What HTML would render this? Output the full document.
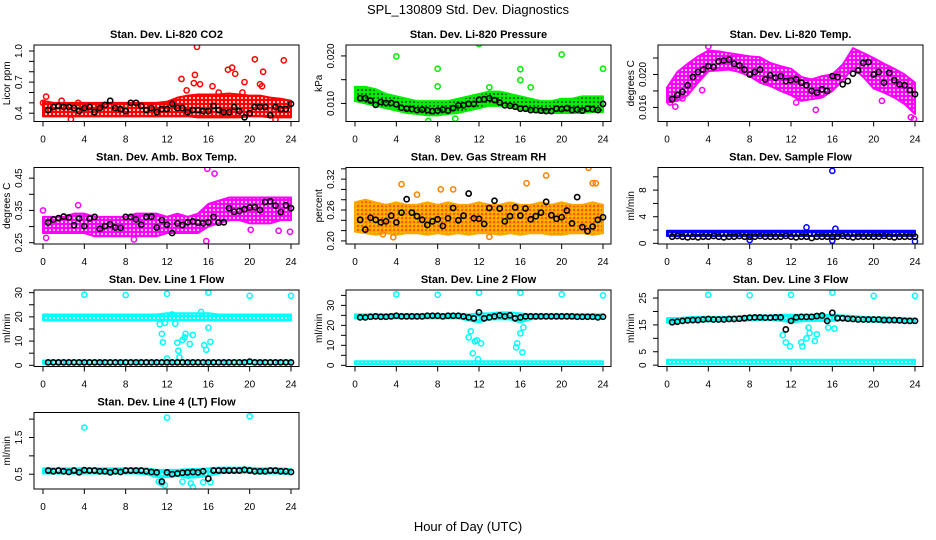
<!DOCTYPE html>
<html><head><meta charset="utf-8"><style>
html,body{margin:0;padding:0;background:#fff;width:936px;height:540px;overflow:hidden}
svg text{font-family:"Liberation Sans",sans-serif}
</style></head><body>
<svg id="chart" width="936" height="540" viewBox="0 0 936 540" xmlns="http://www.w3.org/2000/svg">
<defs>
<pattern id="p-red" width="4" height="4" patternUnits="userSpaceOnUse"><rect width="4" height="4" fill="#ff0000"/><circle cx="2" cy="2" r="1" fill="#fff"/></pattern>
<pattern id="p-green" width="4" height="4" patternUnits="userSpaceOnUse"><rect width="4" height="4" fill="#00ee00"/><circle cx="2" cy="2" r="0.9" fill="#0a0a0a"/></pattern>
<pattern id="p-magenta" width="4" height="4" patternUnits="userSpaceOnUse"><rect width="4" height="4" fill="#ff00ff"/><circle cx="2" cy="2" r="1" fill="#fff"/></pattern>
<pattern id="p-orange" width="4" height="4" patternUnits="userSpaceOnUse"><rect width="4" height="4" fill="#ffa500"/><circle cx="2" cy="2" r="0.9" fill="#ff2000"/><circle cx="0" cy="0" r="0.8" fill="#ffff00"/></pattern>
<pattern id="p-blue" width="4" height="4" patternUnits="userSpaceOnUse"><rect width="4" height="4" fill="#0000ff"/><circle cx="2" cy="2" r="1" fill="#fff"/></pattern>
<pattern id="p-cyan" width="4" height="4" patternUnits="userSpaceOnUse"><rect width="4" height="4" fill="#00ffff"/><circle cx="2" cy="2" r="1" fill="#fff"/></pattern>
</defs>
<text x="468" y="14" font-size="13" text-anchor="middle">SPL_130809  Std. Dev. Diagnostics</text>
<text x="468" y="531" font-size="13" text-anchor="middle">Hour of Day (UTC)</text>
</svg>
<script>
const bandHours = [0,1,2,3,4,5,6,7,8,9,10,11,12,13,14,15,16,17,18,19,20,21,22,23,24];
const blackHours = [0.5,1,1.5,2,2.5,3,3.5,4,4.5,5,5.5,6,6.5,7,7.5,8,8.5,9,9.5,10,10.5,11,11.5,12,12.5,13,13.5,14,14.5,15,15.5,16,16.5,17,17.5,18,18.5,19,19.5,20,20.5,21,21.5,22,22.5,23,23.5,24];
const xTicks = [0,4,8,12,16,20,24];

const co2Hi = [0.52,0.50,0.50,0.50,0.50,0.50,0.50,0.50,0.50,0.50,0.50,0.50,0.51,0.55,0.57,0.58,0.58,0.58,0.59,0.58,0.57,0.57,0.55,0.54,0.52];
const co2Lo = [0.37,0.37,0.37,0.37,0.37,0.37,0.37,0.37,0.37,0.37,0.37,0.37,0.37,0.37,0.37,0.36,0.36,0.36,0.36,0.36,0.37,0.37,0.36,0.36,0.36];
const co2OutX = [0,0.3,1.8,3.4,13.4,13.9,14.7,14.6,14.9,15.2,16.4,17.9,18.3,18.6,19.5,20.5,21,21.2,21.3,23.3,19.3,17,2.7,22.5];
const co2OutY = [0.5,0.56,0.52,0.5,0.73,0.62,0.77,0.69,1.04,0.68,0.66,0.82,0.84,0.78,0.7,0.92,0.68,0.66,0.8,0.91,0.6,0.6,0.34,0.34];
const co2Black = [0.43,0.46,0.47,0.46,0.46,0.45,0.42,0.45,0.46,0.41,0.45,0.48,0.52,0.45,0.44,0.42,0.5,0.5,0.47,0.43,0.45,0.41,0.44,0.44,0.49,0.45,0.45,0.41,0.43,0.43,0.42,0.42,0.47,0.43,0.41,0.41,0.46,0.42,0.36,0.4,0.46,0.46,0.46,0.38,0.46,0.44,0.44,0.49];
const presHi = [0.0135,0.0135,0.013,0.012,0.0115,0.011,0.0105,0.0105,0.0105,0.0105,0.011,0.0115,0.012,0.0125,0.0125,0.012,0.0115,0.011,0.0105,0.0105,0.011,0.011,0.0115,0.0115,0.0115];
const presLo = [0.0105,0.01,0.0095,0.009,0.0085,0.008,0.0078,0.0075,0.0075,0.0078,0.008,0.0085,0.009,0.0095,0.0095,0.0092,0.0088,0.0083,0.008,0.008,0.008,0.008,0.008,0.0082,0.0082];
const presOutX = [4,8,8,12,13,16,16,17,20,24,7.1,9.7];
const presOutY = [0.0199,0.0173,0.0136,0.0225,0.0134,0.0172,0.0149,0.0134,0.0203,0.0173,0.0063,0.0068];
const presBlack = [0.0111,0.0111,0.0106,0.0097,0.0103,0.0101,0.0101,0.0098,0.0091,0.0089,0.0088,0.0086,0.0087,0.0086,0.0084,0.0085,0.0087,0.0085,0.009,0.0096,0.0096,0.0099,0.0099,0.0108,0.0109,0.0111,0.0107,0.0102,0.0096,0.0095,0.0093,0.0089,0.0089,0.0086,0.0086,0.0085,0.0084,0.0084,0.0089,0.0088,0.009,0.0086,0.0087,0.0085,0.0089,0.0088,0.0086,0.0099];
const tempHi = [0.0184,0.0203,0.0213,0.0222,0.0229,0.0228,0.0226,0.0224,0.0222,0.0221,0.0214,0.021,0.0207,0.0197,0.0194,0.0198,0.02,0.0212,0.0232,0.0226,0.022,0.0213,0.0207,0.02,0.019];
const tempLo = [0.0166,0.0168,0.0175,0.019,0.0204,0.0205,0.0206,0.0203,0.0198,0.019,0.0186,0.018,0.0175,0.0168,0.017,0.0172,0.018,0.0193,0.0208,0.0197,0.0183,0.0178,0.0172,0.0164,0.0152];
const tempOutX = [0.3,0.8,1.5,3.4,12.5,14.4,20.8,23.6,23.9,4];
const tempOutY = [0.0166,0.0161,0.0171,0.0181,0.0166,0.0157,0.0168,0.0148,0.0146,0.0234];
const tempBlack = [0.017,0.0175,0.0179,0.0187,0.0197,0.0203,0.0206,0.021,0.0209,0.0216,0.0217,0.0218,0.0213,0.0211,0.0206,0.02,0.0203,0.0206,0.0194,0.0199,0.0196,0.0198,0.0192,0.0193,0.0194,0.019,0.0187,0.018,0.0178,0.0182,0.018,0.0198,0.0197,0.0188,0.0192,0.0201,0.0205,0.0214,0.0215,0.02,0.0203,0.019,0.0202,0.0193,0.0188,0.0187,0.0181,0.0176];
const boxHi = [0.33,0.33,0.33,0.34,0.34,0.33,0.33,0.33,0.33,0.34,0.34,0.34,0.33,0.34,0.33,0.34,0.37,0.38,0.39,0.39,0.39,0.39,0.39,0.39,0.39];
const boxLo = [0.28,0.28,0.28,0.28,0.28,0.27,0.27,0.27,0.27,0.27,0.27,0.27,0.28,0.28,0.28,0.28,0.3,0.31,0.32,0.32,0.31,0.31,0.31,0.32,0.32];
const boxOutX = [15.9,16.6,0,0.3,3.4,21.2,22.8,23.9,20.1,8.8,15.8];
const boxOutY = [0.479,0.464,0.35,0.265,0.366,0.345,0.287,0.284,0.29,0.26,0.255];
const boxBlack = [0.312,0.322,0.326,0.331,0.328,0.304,0.325,0.301,0.325,0.33,0.293,0.301,0.307,0.297,0.296,0.33,0.33,0.322,0.306,0.33,0.331,0.297,0.32,0.306,0.28,0.31,0.305,0.313,0.316,0.312,0.31,0.313,0.33,0.312,0.313,0.357,0.346,0.348,0.354,0.359,0.36,0.351,0.376,0.378,0.365,0.345,0.366,0.357];
const rhHi = [0.275,0.28,0.275,0.27,0.275,0.27,0.27,0.275,0.27,0.275,0.27,0.27,0.275,0.27,0.27,0.275,0.27,0.27,0.275,0.27,0.275,0.27,0.27,0.275,0.27];
const rhLo = [0.218,0.215,0.212,0.215,0.212,0.215,0.215,0.212,0.215,0.212,0.215,0.212,0.215,0.215,0.212,0.215,0.212,0.215,0.215,0.212,0.212,0.215,0.215,0.212,0.215];
const rhOutX = [4.5,8.3,16.6,18.5,22.6,23,23.3,13,3.7,2.7,6,9.5];
const rhOutY = [0.31,0.3,0.312,0.327,0.342,0.312,0.312,0.208,0.207,0.213,0.29,0.3];
const rhBlack = [0.241,0.222,0.245,0.241,0.236,0.238,0.249,0.236,0.255,0.281,0.255,0.248,0.241,0.231,0.238,0.242,0.229,0.244,0.264,0.24,0.249,0.292,0.244,0.243,0.233,0.264,0.278,0.263,0.238,0.248,0.265,0.249,0.263,0.242,0.248,0.255,0.276,0.25,0.243,0.246,0.259,0.234,0.285,0.227,0.219,0.228,0.241,0.246];
const sfHi = [1.9,1.9,1.9,1.9,1.9,1.9,1.9,1.9,1.9,1.9,1.9,1.9,1.9,1.9,1.9,1.9,1.9,1.9,1.9,1.9,1.9,1.9,1.9,1.9,1.9];
const sfLo = [1.1,1.1,1.1,1.1,1.1,1.1,1.1,1.1,1.1,1.1,1.1,1.1,1.1,1.1,1.1,1.1,1.1,1.1,1.1,1.1,1.1,1.1,1.1,1.1,1.1];
const sfOutX = [16,13.5,16.3,8,16,24];
const sfOutY = [10.9,2.4,2.2,0.5,0.4,0.3];
const sfBlack = [1.0,1.1,1.0,0.9,1.0,0.9,1.0,1.0,1.1,1.0,0.9,1.0,1.0,1.1,1.0,1.0,1.0,1.1,1.0,1.0,1.0,1.0,1.1,1.0,0.9,1.0,1.0,0.8,1.0,1.0,1.0,1.0,1.0,1.1,1.0,0.9,1.0,1.0,1.0,1.0,1.0,1.1,1.0,0.9,1.0,1.0,1.0,1.0];
const l1Hi = [21,21,21,21,21,21,21,21,21,21,21,21,21.5,21.5,21.5,21.5,21.5,21,21,21,21,21,21,21,21];
const l1Lo = [18.5,18.5,18.5,18.5,18.5,18.5,18.5,18.5,18.5,18.5,18.5,18.5,18.5,18.5,18.5,18.5,18.5,18.5,18.5,18.5,18.5,18.5,18.5,18.5,18.5];
const l1Hi2 = [2,2,2,2,2,2,2,2,2,2,2,2,2,2,2,2,2,2,2,2,2,2,2,2,2];
const l1Lo2 = [0.6,0.6,0.6,0.6,0.6,0.6,0.6,0.6,0.6,0.6,0.6,0.6,0.6,0.6,0.6,0.6,0.6,0.6,0.6,0.6,0.6,0.6,0.6,0.6,0.6];
const l1OutX = [4,8,12,16,20,24,11.3,11.5,11.6,11.8,12,12.5,12.8,13,13.1,13.2,13.5,13.7,13.8,14.2,14.5,15.6,15.8,16,16.2,15.3];
const l1OutY = [29.2,29,29.5,30,28.7,28.7,17,13,9.5,17.5,2.8,21,17.2,9.3,6,3.3,10.5,11.5,13,8.8,12.5,8.3,6.4,15.5,9.7,22];
const l1Black = [1.2,1.2,1.2,1.2,1.2,1.2,1.2,1.2,1.2,1.2,1.2,1.2,1.2,1.2,1.2,1.2,1.2,1.2,1.2,1.2,1.2,1.2,1.2,1.2,1.2,1.2,1.2,1.2,1.2,1.2,1.2,1.2,1.2,1.2,1.2,1.2,1.2,1.2,1.2,1.5,1.2,1.2,1.2,1.2,1.2,1.2,1.2,1.2];
const l2Hi = [25.5,25.5,25.5,25.5,25.5,25.5,25.5,25.5,25.5,25.5,25.5,25.5,26,26,26.5,26.5,26,25.5,25.5,25.5,25.5,25.5,25.5,25.5,25.5];
const l2Lo = [23.5,23.5,23.5,23.5,23.5,23.5,23.5,23.5,23.5,23.5,23.5,22.5,21.5,23,23,23,21.5,23,23.5,23.5,23.5,23.5,23.5,23.5,23.5];
const l2Hi2 = [2,2,2,2,2,2,2,2,2,2,2,2,2,2,2,2,2,2,2,2,2,2,2,2,2];
const l2Lo2 = [0.5,0.5,0.5,0.5,0.5,0.5,0.5,0.5,0.5,0.5,0.5,0.5,0.5,0.5,0.5,0.5,0.5,0.5,0.5,0.5,0.5,0.5,0.5,0.5,0.5];
const l2OutX = [4,8,12,16,20,24,11,11.2,11.4,11.6,11.8,12.2,15.6,15.7,16,16.2,16.3,11.9];
const l2OutY = [35.5,35.3,36.4,36.3,35.5,35,14,17,6,12,12.5,11,9,11,16,6.5,19,3];
const l2Black = [24,24,24.3,24.5,24.3,24.3,24.5,24.8,24.5,24.5,24.5,24.5,24.5,24.8,24.8,24.8,24.5,24.8,24.8,24.8,24.5,24,23.5,26.5,23.5,24,24.5,25,24.5,25,23.5,24,24.5,24.5,24.5,24.5,24.5,24.5,24.5,24.5,24.5,24.5,24.3,24.3,24.3,24.3,24,24.3];
const l3Hi = [17.5,17.5,17.8,18,18,18,18,18.2,18.3,18.5,18.5,18.8,18.8,18.8,18.8,18.8,18.8,18.5,18.3,18,17.8,17.8,17.5,17.5,17.3];
const l3Lo = [15.8,15.8,16,16.2,16.3,16.3,16.5,16.5,16.7,16.8,16.8,16.5,16,16.3,16.5,16.5,16.5,16.8,16.5,16.3,16.2,16,16,15.8,15.8];
const l3Hi2 = [2,2,2,2,2,2,2,2,2,2,2,2,2,2,2,2,2,2,2,2,2,2,2,2,2];
const l3Lo2 = [0.5,0.5,0.5,0.5,0.5,0.5,0.5,0.5,0.5,0.5,0.5,0.5,0.5,0.5,0.5,0.5,0.5,0.5,0.5,0.5,0.5,0.5,0.5,0.5,0.5];
const l3OutX = [4,8,12,16,20,24,11.2,11.5,11.9,13,13.1,13.5,13.7,13.8,14.3,14.5,15.6,16.2];
const l3OutY = [26.2,26,26.2,27,25.8,25.8,11.2,8.5,7,8.5,7,10,14,12,9,11.5,14,13.6];
const l3Black = [16,16.2,16.5,16.7,16.8,16.8,17,17.2,17,17,17,17.2,17.2,17.3,17.5,17.7,17.8,17.8,17.7,17.7,17.8,17.8,13.3,16.5,17.8,18,18,18,18.3,18.5,16.5,19.5,17.5,17.5,17.3,17.2,17,17,17,17,17,16.8,16.8,16.8,16.7,16.5,16.5,16.5];
const l4Hi = [0.66,0.66,0.66,0.66,0.66,0.66,0.66,0.66,0.66,0.66,0.66,0.62,0.62,0.62,0.64,0.64,0.66,0.68,0.68,0.68,0.68,0.66,0.66,0.66,0.64];
const l4Lo = [0.52,0.52,0.52,0.52,0.52,0.52,0.52,0.52,0.52,0.52,0.5,0.42,0.42,0.45,0.4,0.42,0.45,0.52,0.54,0.54,0.54,0.52,0.52,0.52,0.5];
const l4OutX = [4,12,20,11.2,11.8,13.5,14.3,14.5,15.5,16.2,11.5];
const l4OutY = [1.77,2.04,2.08,0.3,0.2,0.3,0.25,0.15,0.28,0.28,0.25];
const l4Black = [0.6,0.58,0.6,0.58,0.56,0.6,0.55,0.61,0.6,0.6,0.58,0.58,0.55,0.58,0.56,0.6,0.6,0.6,0.6,0.58,0.56,0.55,0.3,0.55,0.5,0.52,0.54,0.55,0.56,0.55,0.58,0.38,0.6,0.6,0.6,0.6,0.6,0.6,0.62,0.6,0.58,0.58,0.58,0.6,0.6,0.58,0.58,0.56];

const panels = [
 {name:'co2',title:'Stan. Dev. Li-820 CO2',ylab:'Licor ppm',col:0,row:0,ymin:0.32,ymax:1.058,ticks:[0.4,0.5,0.6,0.7,0.8,0.9,1.0],labs:['0.4','0.7','1.0'],labv:[0.4,0.7,1.0],bands:[[co2Hi,co2Lo]],pat:'p-red',color:'#ff0000',ox:co2OutX,oy:co2OutY,black:co2Black},
 {name:'pressure',title:'Stan. Dev. Li-820 Pressure',ylab:'kPa',col:1,row:0,ymin:0.0062,ymax:0.0223,ticks:[0.010,0.015,0.020],labs:['0.010','0.020'],labv:[0.010,0.020],bands:[[presHi,presLo]],pat:'p-green',color:'#00ee00',ox:presOutX,oy:presOutY,black:presBlack},
 {name:'li820-temp',title:'Stan. Dev. Li-820 Temp.',ylab:'degrees C',col:2,row:0,ymin:0.01429,ymax:0.02358,ticks:[0.016,0.018,0.020,0.022],labs:['0.016','0.020'],labv:[0.016,0.020],bands:[[tempHi,tempLo]],pat:'p-magenta',color:'#ff00ff',ox:tempOutX,oy:tempOutY,black:tempBlack},
 {name:'amb-box-temp',title:'Stan. Dev. Amb. Box Temp.',ylab:'degrees C',col:0,row:1,ymin:0.246,ymax:0.483,ticks:[0.25,0.30,0.35,0.40,0.45],labs:['0.25','0.35','0.45'],labv:[0.25,0.35,0.45],bands:[[boxHi,boxLo]],pat:'p-magenta',color:'#ff00ff',ox:boxOutX,oy:boxOutY,black:boxBlack},
 {name:'gas-stream-rh',title:'Stan. Dev. Gas Stream RH',ylab:'percent',col:1,row:1,ymin:0.194,ymax:0.3426,ticks:[0.20,0.22,0.24,0.26,0.28,0.30,0.32,0.34],labs:['0.20','0.26','0.32'],labv:[0.20,0.26,0.32],bands:[[rhHi,rhLo]],pat:'p-orange',color:'#ffa500',ox:rhOutX,oy:rhOutY,black:rhBlack},
 {name:'sample-flow',title:'Stan. Dev. Sample Flow',ylab:'ml/min',col:2,row:1,ymin:-0.1,ymax:11.4,ticks:[0,2,4,6,8,10],labs:['0','4','8'],labv:[0,4,8],bands:[[sfHi,sfLo]],pat:'p-blue',color:'#0000ff',ox:sfOutX,oy:sfOutY,black:sfBlack},
 {name:'line1-flow',title:'Stan. Dev. Line 1 Flow',ylab:'ml/min',col:0,row:2,ymin:-0.5,ymax:31.1,ticks:[0,5,10,15,20,25,30],labs:['0','10','20','30'],labv:[0,10,20,30],bands:[[l1Hi,l1Lo],[l1Hi2,l1Lo2]],pat:'p-cyan',color:'#00ffff',ox:l1OutX,oy:l1OutY,black:l1Black},
 {name:'line2-flow',title:'Stan. Dev. Line 2 Flow',ylab:'ml/min',col:1,row:2,ymin:-0.6,ymax:37.7,ticks:[0,5,10,15,20,25,30,35],labs:['0','10','20','30'],labv:[0,10,20,30],bands:[[l2Hi,l2Lo],[l2Hi2,l2Lo2]],pat:'p-cyan',color:'#00ffff',ox:l2OutX,oy:l2OutY,black:l2Black},
 {name:'line3-flow',title:'Stan. Dev. Line 3 Flow',ylab:'ml/min',col:2,row:2,ymin:-0.5,ymax:28,ticks:[0,5,10,15,20,25],labs:['0','5','15','25'],labv:[0,5,15,25],bands:[[l3Hi,l3Lo],[l3Hi2,l3Lo2]],pat:'p-cyan',color:'#00ffff',ox:l3OutX,oy:l3OutY,black:l3Black},
 {name:'line4-flow',title:'Stan. Dev. Line 4 (LT) Flow',ylab:'ml/min',col:0,row:3,ymin:0.098,ymax:2.18,ticks:[0.5,1.0,1.5,2.0],labs:['0.5','1.5'],labv:[0.5,1.5],bands:[[l4Hi,l4Lo]],pat:'p-cyan',color:'#00ffff',ox:l4OutX,oy:l4OutY,black:l4Black}
];

const NS='http://www.w3.org/2000/svg';
const svg=document.getElementById('chart');
function mk(tag,attrs,parent){const e=document.createElementNS(NS,tag);for(const k in attrs)e.setAttribute(k,attrs[k]);(parent||svg).appendChild(e);return e;}
const colX=[34,346,658], rowY=[45,167.5,290,412.5], BW=265, BH=76.5;

panels.forEach(p=>{
  const L=colX[p.col], T=rowY[p.row], R=L+BW, B=T+BH;
  const t0=L+9, t1=R-8;
  const xs=h=>t0+(t1-t0)*h/24;
  const ys=v=>B-(v-p.ymin)/(p.ymax-p.ymin)*BH;
  const g=mk('g',{});
  
  
  const clip=mk('clipPath',{id:'c-'+p.name},g); mk('rect',{x:L,y:T,width:BW,height:BH},clip);
  const plot=mk('g',{'clip-path':'url(#c-'+p.name+')'},g);
  p.bands.forEach((bd,bi)=>{
    let pts=bandHours.map((h,i)=>xs(h)+','+ys(bd[0][i]));
    pts=pts.concat(bandHours.map((h,i)=>xs(h)+','+ys(bd[1][i])).reverse());
    const poly=mk('polygon',{points:pts.join(' '),fill:'url(#'+p.pat+')',stroke:p.color,'stroke-width':2,'stroke-linejoin':'round'},plot);
    
    
  });
  p.ox.forEach((h,i)=>{
    const c=mk('circle',{cx:xs(h),cy:ys(p.oy[i]),r:2.6,fill:'none',stroke:p.color==='#ffa500'?'#ff8000':p.color,'stroke-width':1.5},plot);
    
    
  });
  blackHours.forEach((h,i)=>{
    const c=mk('circle',{cx:xs(h),cy:ys(p.black[i]),r:2.6,fill:'none',stroke:'#000','stroke-width':1.6},plot);
    
    
  });
  const box=mk('rect',{x:L,y:T,width:BW,height:BH,fill:'none',stroke:'#000','stroke-width':1},g);
  
  
  xTicks.forEach(h=>{
    mk('line',{x1:xs(h),x2:xs(h),y1:B,y2:B+5,stroke:'#000'},g);
    const t=mk('text',{x:xs(h),y:B+21,'font-size':10,'text-anchor':'middle'},g); t.textContent=h;
    
    
  });
  p.ticks.forEach(v=>{ mk('line',{x1:L-5,x2:L,y1:ys(v),y2:ys(v),stroke:'#000'},g); });
  p.labv.forEach((v,i)=>{
    const t=mk('text',{x:0,y:0,'font-size':10,'text-anchor':'middle',transform:'translate('+(L-12)+','+ys(v)+') rotate(-90)'},g);
    t.textContent=p.labs[i];
    
    
  });
  const yl=mk('text',{x:0,y:0,'font-size':10,'text-anchor':'middle',transform:'translate('+(L-24)+','+(T+BH/2)+') rotate(-90)'},g);
  yl.textContent=p.ylab;
  
  
  const ti=mk('text',{x:(L+R)/2,y:T-7,'font-size':11,'font-weight':'bold','text-anchor':'middle'},g);
  ti.textContent=p.title;
  
  
});
</script>
</body></html>
